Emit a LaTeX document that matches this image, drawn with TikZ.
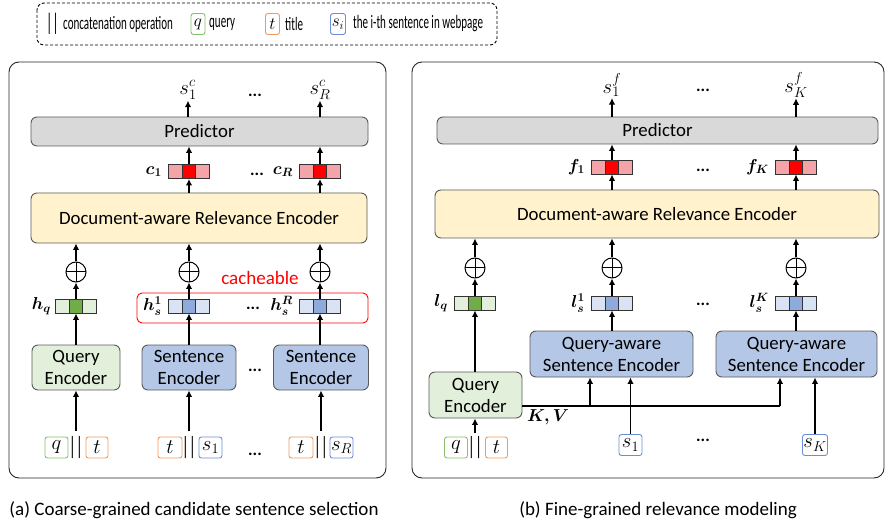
\documentclass[tikz,border=0pt]{standalone}
\usepackage{fontspec}
\setmainfont{Carlito}
\newfontfamily\legfont[FakeStretch=0.58]{Carlito}
\newfontfamily\barfont[FakeStretch=0.62]{Carlito}
\usetikzlibrary{arrows.meta,calc}
\definecolor{predgray}{HTML}{D9D9D9}
\definecolor{dreyel}{HTML}{FFF2CC}
\definecolor{qgreen}{HTML}{E2EFDA}
\definecolor{sblue}{HTML}{B4C7E7}
\definecolor{gl}{HTML}{E2EFDA}
\definecolor{gd}{HTML}{70AD47}
\definecolor{bl}{HTML}{DAE3F3}
\definecolor{bd}{HTML}{8FAADC}
\definecolor{rl}{HTML}{F4A3A8}
\definecolor{rd}{HTML}{FF0000}
\definecolor{qbord}{HTML}{82C46A}
\definecolor{tbord}{HTML}{F19A5E}
\definecolor{sbord}{HTML}{6A8FD6}
\definecolor{boxbord}{HTML}{5A5A5A}
\tikzset{
  arr/.style={line width=1.6pt,-{Latex[length=6.5pt,width=6.5pt]}},
  panel/.style={draw=black!85,line width=0.9pt,rounded corners=10pt},
  mainbox/.style={draw=boxbord,line width=0.9pt,rounded corners=6pt,inner sep=0pt,
    font=\fontsize{18.8}{22}\selectfont,align=center},
  predbox/.style={mainbox,fill=predgray},
  drebox/.style={mainbox,fill=dreyel},
  qencbox/.style={mainbox,fill=qgreen},
  sencbox/.style={mainbox,fill=sblue},
  vec/.style 2 args={draw=black!80,line width=0.9pt,minimum width=41pt,minimum height=14pt,inner sep=0pt,
    path picture={
      \fill[#1] (path picture bounding box.south west) rectangle (path picture bounding box.north east);
      \fill[#2] ($(path picture bounding box.south west)!0.3333!(path picture bounding box.south east)$) rectangle ($(path picture bounding box.north west)!0.6667!(path picture bounding box.north east)$);
      \draw[black!80,line width=0.9pt] ($(path picture bounding box.south west)!0.3333!(path picture bounding box.south east)$) -- ($(path picture bounding box.north west)!0.3333!(path picture bounding box.north east)$)
        ($(path picture bounding box.south west)!0.6667!(path picture bounding box.south east)$) -- ($(path picture bounding box.north west)!0.6667!(path picture bounding box.north east)$);
    }},
  oplusnode/.style={circle,draw,line width=1pt,minimum size=20pt,inner sep=0pt,
    path picture={\draw[line width=1pt] (path picture bounding box.north) -- (path picture bounding box.south)
      (path picture bounding box.west) -- (path picture bounding box.east);}},
  inbox/.style={draw=#1,line width=0.9pt,rounded corners=2.5pt,minimum height=21pt,inner sep=0pt,font=\fontsize{20.5}{20}\selectfont},
  bars/.style={inner sep=0pt,font=\barfont\fontsize{25}{25}\selectfont},
  blbl/.style={inner sep=1pt,font=\boldmath\fontsize{17.5}{17.5}\selectfont},
  olbl/.style={inner sep=1pt,font=\fontsize{21}{21}\selectfont},
  dotsn/.style={inner sep=0pt,font=\bfseries\fontsize{17}{17}\selectfont},
  legtxt/.style={inner sep=0pt,anchor=west,font=\legfont\fontsize{19}{19}\selectfont},
  captxt/.style={inner sep=0pt,font=\fontsize{19}{19}\selectfont},
}
\begin{document}
\begin{tikzpicture}[x=1pt,y=-1pt]
\useasboundingbox (0,0) rectangle (885,526);
% legend
\draw[dashed,dash pattern=on 3pt off 2pt,line width=0.9pt,rounded corners=7pt] (37,3) rectangle (497,45);
\node[bars,font=\legfont\fontsize{24}{24}\selectfont] (lgbar) at (52.5,24) {||};
\node[legtxt] (lgconcat) at (63,24) {concatenation operation};
\node[inbox=qbord,minimum width=14pt,font=\fontsize{18}{18}\selectfont] (lgq) at (198,24) {$q$};
\node[legtxt] (lgquery) at (209,24) {query};
\node[inbox=tbord,minimum width=14pt,font=\fontsize{18}{18}\selectfont] (lgt) at (272.5,24) {$t$};
\node[legtxt] (lgtitle) at (285,24) {title};
\node[inbox=sbord,minimum width=15pt,font=\fontsize{18}{18}\selectfont] (lgs) at (338,24) {$s_i$};
\node[legtxt] (lgsent) at (353,24) {the i-th sentence in webpage};
% panels
\draw[panel] (9,62) rectangle (386,478);
\draw[panel] (412,62) rectangle (884,478);
% ===== left panel =====
\node[olbl] (sA1) at (188,90) {$s_1^c$};
\node[olbl] (sA2) at (320,90) {$s_R^c$};
\node[dotsn] (dA1) at (255,95) {...};
\node[predbox,minimum width=337pt,minimum height=29pt] (predA) at (199.5,131.5) {Predictor};
\draw[arr] (predA.north -| sA1) -- (sA1.south);
\draw[arr] (predA.north -| sA2) -- (sA2.south);
\node[vec={rl}{rd}] (cA1) at (189,171.5) {};
\node[vec={rl}{rd}] (cA2) at (320,171.5) {};
\node[blbl,anchor=east] (cA1l) at ([xshift=-5pt]cA1.west) {$c_1$};
\node[blbl,anchor=east] (cA2l) at ([xshift=-5pt]cA2.west) {$c_R$};
\node[dotsn] (dA2) at (257,174) {...};
\draw[arr] (cA1.north) -- (predA.south -| cA1);
\draw[arr] (cA2.north) -- (predA.south -| cA2);
\node[drebox,minimum width=336pt,minimum height=50pt] (dreA) at (199,218) {Document-aware Relevance Encoder};
\draw[arr] (dreA.north -| cA1) -- (cA1.south);
\draw[arr] (dreA.north -| cA2) -- (cA2.south);
\node[oplusnode] (oA1) at (76,272) {};
\node[oplusnode] (oA2) at (189,272) {};
\node[oplusnode] (oA3) at (320,272) {};
\draw[arr] (oA1.north) -- (dreA.south -| oA1);
\draw[arr] (oA2.north) -- (dreA.south -| oA2);
\draw[arr] (oA3.north) -- (dreA.south -| oA3);
\node[text=red,inner sep=0pt,font=\fontsize{19}{19}\selectfont] (cachelbl) at (260,278) {cacheable};
\node[draw=red,line width=0.9pt,rounded corners=5pt,minimum width=231pt,minimum height=30pt] (cache) at (252.5,308) {};
\node[vec={gl}{gd}] (hA1) at (76,306) {};
\node[vec={bl}{bd}] (hA2) at (189,306) {};
\node[vec={bl}{bd}] (hA3) at (320,306) {};
\node[blbl,anchor=east] (hA1l) at ([xshift=-3pt]hA1.west) {$h_q$};
\node[blbl,anchor=east] (hA2l) at ([xshift=-5pt]hA2.west) {$h_s^1$};
\node[blbl,anchor=east] (hA3l) at ([xshift=-5pt]hA3.west) {$h_s^R$};
\node[dotsn] (dA3) at (253,308) {...};
\draw[arr] (hA1.north) -- (oA1.south);
\draw[arr] (hA2.north) -- (oA2.south);
\draw[arr] (hA3.north) -- (oA3.south);
\node[qencbox,minimum width=88pt,minimum height=45pt] (qeA) at (76,367.5) {Query\\Encoder};
\node[sencbox,minimum width=94pt,minimum height=45pt] (seA1) at (189,367.5) {Sentence\\Encoder};
\node[sencbox,minimum width=95pt,minimum height=45pt] (seA2) at (321,367.5) {Sentence\\Encoder};
\node[dotsn] (dA4) at (255,370) {...};
\draw[arr] (qeA.north) -- (hA1.south);
\draw[arr] (seA1.north -| hA2) -- (hA2.south);
\draw[arr] (seA2.north -| hA3) -- (hA3.south);
% inputs A
\node[inbox=qbord,minimum width=23pt] (qA) at (56.5,447.5) {$q$};
\node[bars] (barA1) at (76,447.5) {||};
\node[inbox=tbord,minimum width=22pt] (tA1) at (97,447.5) {$t$};
\node[inbox=tbord,minimum width=24pt] (tA2) at (170,447.5) {$t$};
\node[bars] (barA2) at (189,447.5) {||};
\node[inbox=sbord,minimum width=23pt] (sinA1) at (210.5,447.5) {$s_1$};
\node[inbox=tbord,minimum width=24pt] (tA3) at (301,447.5) {$t$};
\node[bars] (barA3) at (321,447.5) {||};
\node[inbox=sbord,minimum width=23pt] (sinA2) at (341.5,447.5) {$s_R$};
\node[dotsn] (dA5) at (255,454) {...};
\draw[arr] ([yshift=5pt]barA1.north) -- (qeA.south);
\draw[arr] ([yshift=5pt]barA2.north) -- (seA1.south -| barA2);
\draw[arr] ([yshift=5pt]barA3.north) -- (seA2.south -| barA3);
\node[captxt] (capA) at (194,510) {(a) Coarse-grained candidate sentence selection};
% ===== right panel =====
\node[olbl] (sB1) at (612,85) {$s_1^f$};
\node[olbl] (sB2) at (796,85) {$s_K^f$};
\node[dotsn] (dB1) at (703,90) {...};
\node[predbox,minimum width=441pt,minimum height=27pt] (predB) at (657.5,130.5) {Predictor};
\draw[arr] (predB.north -| sB1) -- (sB1.south);
\draw[arr] (predB.north -| sB2) -- (sB2.south);
\node[vec={rl}{rd}] (fB1) at (612,167) {};
\node[vec={rl}{rd}] (fB2) at (796,167) {};
\node[blbl,anchor=east] (fB1l) at ([xshift=-5pt]fB1.west) {$f_1$};
\node[blbl,anchor=east] (fB2l) at ([xshift=-5pt]fB2.west) {$f_K$};
\node[dotsn] (dB2) at (703,170) {...};
\draw[arr] (fB1.north) -- (predB.south -| fB1);
\draw[arr] (fB2.north) -- (predB.south -| fB2);
\node[drebox,minimum width=444pt,minimum height=48pt] (dreB) at (657,214) {Document-aware Relevance Encoder};
\draw[arr] (dreB.north -| fB1) -- (fB1.south);
\draw[arr] (dreB.north -| fB2) -- (fB2.south);
\node[oplusnode] (oB1) at (475,268) {};
\node[oplusnode] (oB2) at (612,268) {};
\node[oplusnode] (oB3) at (796,268) {};
\draw[arr] (oB1.north) -- (dreB.south -| oB1);
\draw[arr] (oB2.north) -- (dreB.south -| oB2);
\draw[arr] (oB3.north) -- (dreB.south -| oB3);
\node[vec={gl}{gd}] (lB1) at (475,303) {};
\node[vec={bl}{bd}] (lB2) at (612,303) {};
\node[vec={bl}{bd}] (lB3) at (796,303) {};
\node[blbl,anchor=east] (lB1l) at ([xshift=-5pt]lB1.west) {$l_q$};
\node[blbl,anchor=east] (lB2l) at ([xshift=-5pt]lB2.west) {$l_s^1$};
\node[blbl,anchor=east] (lB3l) at ([xshift=-5pt]lB3.west) {$l_s^K$};
\node[dotsn] (dB3) at (703,304) {...};
\draw[arr] (lB1.north) -- (oB1.south);
\draw[arr] (lB2.north) -- (oB2.south);
\draw[arr] (lB3.north) -- (oB3.south);
\node[sencbox,minimum width=163pt,minimum height=46pt] (qaB1) at (611.5,354) {Query-aware\\Sentence Encoder};
\node[sencbox,minimum width=161pt,minimum height=46pt] (qaB2) at (796.5,354) {Query-aware\\Sentence Encoder};
\draw[arr] (qaB1.north -| lB2) -- (lB2.south);
\draw[arr] (qaB2.north -| lB3) -- (lB3.south);
\node[qencbox,minimum width=93pt,minimum height=46pt] (qeB) at (475.5,395) {Query\\Encoder};
\draw[arr] (qeB.north -| lB1) -- (lB1.south);
\node[blbl,anchor=west,font=\boldmath\fontsize{19}{19}\selectfont] (kv) at (526,417) {$K,V$};
\coordinate (kvs) at ([yshift=-11pt]qeB.east);
\coordinate (kvb) at (kvs -| 590,0);
\coordinate (kvt) at (kvs -| 780,0);
\draw[line width=1.6pt] (kvs) -- (kvt);
\draw[arr] (kvt) -- (kvt |- qaB2.south);
\draw[arr] (kvb) -- (kvb |- qaB1.south);
\node[inbox=sbord,minimum width=23pt] (sinB1) at (630.5,445) {$s_1$};
\node[inbox=sbord,minimum width=25pt] (sinB2) at (815,445) {$s_K$};
\node[dotsn] (dB4) at (703,440) {...};
\draw[arr] (sinB1.north) -- (qaB1.south -| sinB1);
\draw[arr] (sinB2.north) -- (qaB2.south -| sinB2);
\node[inbox=qbord,minimum width=23pt] (qB) at (456,447.5) {$q$};
\node[bars] (barB) at (475,447.5) {||};
\node[inbox=tbord,minimum width=22pt] (tB) at (496.5,447.5) {$t$};
\draw[arr] ([yshift=3pt]barB.north) -- (qeB.south -| barB);
\node[captxt] (capB) at (658,510) {(b) Fine-grained relevance modeling};
\end{tikzpicture}
\end{document}
